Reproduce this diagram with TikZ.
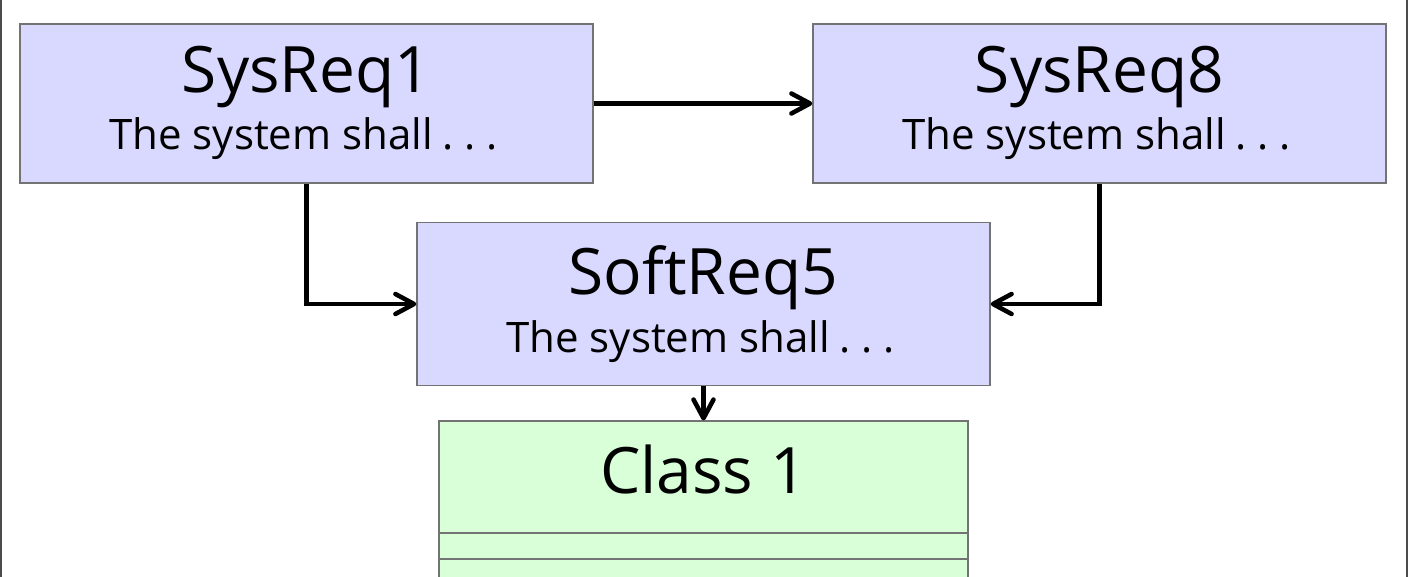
\documentclass[tikz,border=0pt]{standalone}
\usepackage{fontspec}
\setmainfont{Open Sans}
\usetikzlibrary{arrows.meta}

\tikzset{every picture/.style={line width=0.75pt}}
\tikzset{
  reqbox/.style={draw=black!55, fill=blue!15, line width=1pt, inner sep=0pt, minimum width=429.75pt},
  classbox/.style={draw=black!55, fill=green!15, line width=1pt, inner sep=0pt, minimum width=396.75pt, minimum height=180pt, anchor=north},
  titletext/.style={anchor=base, inner sep=0pt, font=\fontsize{48}{56}\selectfont},
  bodytext/.style={anchor=base, inner sep=0pt, font=\fontsize{31.5}{37}\selectfont},
  flow/.style={line width=3.4pt, -{Straight Barb[length=14pt,width=15pt,line width=3.4pt,round]}},
}
\newcommand{\spaceddots}{\kern.22em.\kern.26em.\kern.26em.}

\begin{document}
\begin{tikzpicture}[x=0.75pt,y=0.75pt,yscale=-1,xscale=1]
\useasboundingbox (0,0) rectangle (1411,577);

%Frame
\draw [draw=black!70, line width=1.2pt] (1,-20) rectangle (1407,600);

%Requirement boxes
\node [reqbox, minimum height=119.25pt] (sysreq1) at (306.5,103.5) {};
\node [reqbox, minimum height=119.25pt] (sysreq8) at (1099.5,103.5) {};
\node [reqbox, minimum height=122.25pt] (softreq5) at (703.5,304) {};
%Class box
\node [classbox] (class1) at (703.5,420.5) {};
\draw [draw=black!55, line width=1pt] (class1.west |- 0,533) -- (class1.east |- 0,533);
\draw [draw=black!55, line width=1pt] (class1.west |- 0,559) -- (class1.east |- 0,559);

% Text Node
\node [titletext] (sysreq1title) at (306.5,93) {SysReq1};
% Text Node
\node [bodytext] (sysreq1body) at (303.5,150) {The system shall\spaceddots};
% Text Node
\node [titletext] (sysreq8title) at (1099.5,93) {SysReq8};
% Text Node
\node [bodytext] (sysreq8body) at (1096.5,150) {The system shall\spaceddots};
% Text Node
\node [titletext] (softreq5title) at (703.5,295) {SoftReq5};
% Text Node
\node [bodytext] (softreq5body) at (700.5,353) {The system shall\spaceddots};
% Text Node
\node [titletext] (class1title) at (703.5,493) {Class 1};

%Straight Lines
\draw [flow] (sysreq1) -- (sysreq8);
\draw [flow] (sysreq1.south) |- (softreq5.west);
\draw [flow] (sysreq8.south) |- (softreq5.east);
\draw [flow] (softreq5) -- (class1);

\end{tikzpicture}
\end{document}
